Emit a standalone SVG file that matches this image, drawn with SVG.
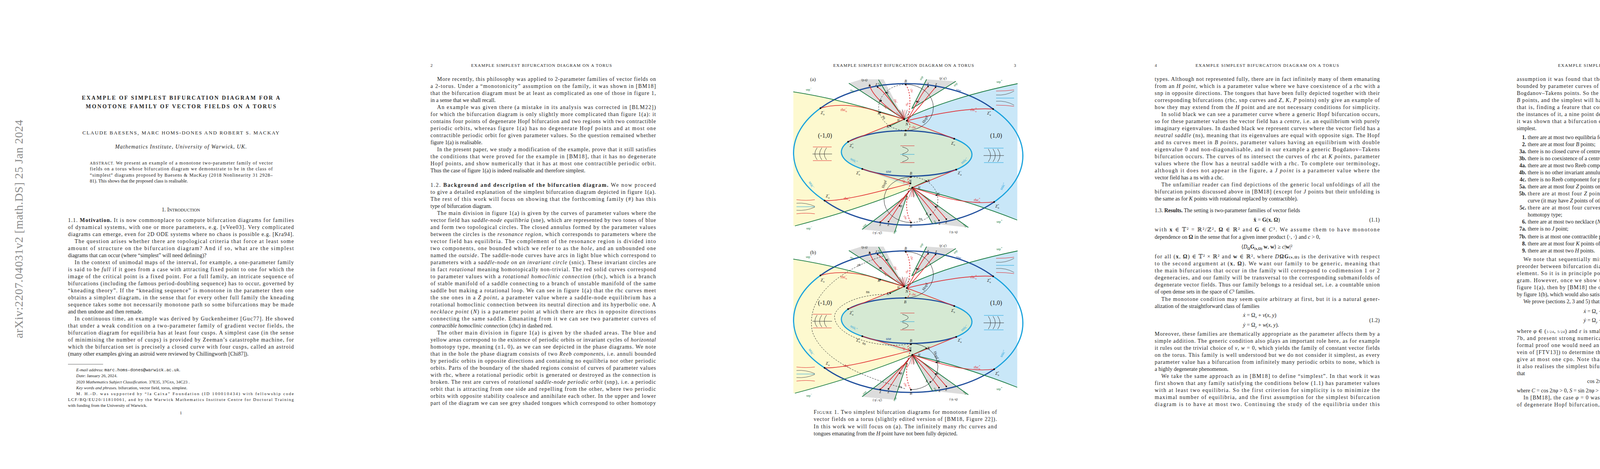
<svg xmlns="http://www.w3.org/2000/svg" xmlns:xlink="http://www.w3.org/1999/xlink" width="4635" height="1200" viewBox="0 0 4635 1200">
<style>
text{font-family:"Liberation Serif","DejaVu Serif",serif;fill:#222}
.b{font-size:14px}
.hd{font-size:11px}
.fn{font-size:11px}
.ab{font-size:12px}
.it{font-style:italic}
.bf{font-weight:bold}
.sc{font-size:11px}
.fl{font-size:10px}
.sm{font-size:7px}
.r{fill:#e0262b}.g{fill:#177a3f}.db{fill:#1f4e9c}.lb{fill:#1ba3dd}
.cr{fill:none;stroke:#e0262b;stroke-width:1.6}
.cg{fill:none;stroke:#177a3f;stroke-width:1.8}
.cd{fill:none;stroke:#1f4e9c;stroke-width:3}
.cl{fill:none;stroke:#1ba3dd;stroke-width:3}
.ck{fill:none;stroke:#222;stroke-width:1}
.dash{stroke-dasharray:4 3}
.dot{fill:#111}
</style>
<defs>
<g id="common">
<!-- regions -->
<path d="M2031,235 Q2160,255 2314.7,305 L2443,355 A169.5,59.5 0 0 1 2448,434 L2335.7,480 Q2200,535 2035,578 L2031,578 Z" fill="#fdf9cf"/>
<path d="M2605,214 Q2430,250 2314.7,305 L2171,363 A169.5,59.5 0 0 0 2207.5,432.3 L2335.7,480 Q2470,510 2604,563 Z" fill="#c9e7f8"/>
<path d="M2314.7,305 L2443,355 A169.5,59.5 0 0 1 2448,434 L2335.7,480 L2207.5,432.3 A169.5,59.5 0 0 1 2171,363 Z" fill="#d5e9d3"/>
<!-- tongues -->
<path d="M2173,213 L2205,203 L2262,203 L2314.7,305 Z" fill="#dcdcdc"/>
<path d="M2372,203 L2447,208 L2334,278 Z" fill="#dcdcdc"/>
<path d="M2207,587 L2290,595 L2322,500 Z" fill="#dcdcdc"/>
<path d="M2387,572 L2479,582 L2335.7,480 Z" fill="#dcdcdc"/>
<!-- outer ellipse -->
<path class="cd" d="M2100.4,276.7 A287,176.5 0 0 1 2542.4,279"/>
<path class="cl" d="M2542.4,279 A287,176.5 0 0 1 2545,516.7"/>
<path class="cd" d="M2545,516.7 A287,176.5 0 0 1 2111,513.3"/>
<path class="cl" d="M2111,513.3 A287,176.5 0 0 1 2100.4,276.7"/>
<!-- inner ellipse -->
<path class="cd" d="M2171.2,362.7 A169.5,59.5 0 0 1 2442.9,355"/>
<path class="cl" d="M2442.9,355 A169.5,59.5 0 0 1 2447.9,434"/>
<path class="cd" d="M2447.9,434 A169.5,59.5 0 0 1 2207.5,432.3"/>
<path class="cl" d="M2207.5,432.3 A169.5,59.5 0 0 1 2171.2,362.7"/>
<!-- snp curves -->
<path class="cg" d="M2031,235 Q2160,255 2314.7,305 Q2430,250 2605,214"/>
<path class="cg" d="M2035,578 Q2200,535 2335.7,480 Q2470,510 2604,563"/>
<path class="cg" d="M2314.7,305 L2278.7,322.3"/>
<path class="cg" d="M2335.7,480 L2371.3,463.3"/>
<path class="cg" d="M2173,213 L2314.7,305 M2249,204 L2268.8,237.3 L2314.7,305 M2372,203 L2334,278 M2447,208 L2334,278 M2207,587 L2322,500 M2290,595 L2322,500 M2387,572 L2335.7,480 M2479,582 L2335.7,480" stroke-width="1.2"/>
<!-- rhc curves -->
<path class="cr" d="M2100.4,276.7 C2150,262 2210,272 2253.4,287.7 L2314.7,305"/>
<path class="cr" d="M2321.6,309 C2400,290 2480,275 2542.4,279"/>
<path class="cr" d="M2171.2,362.7 L2314.7,305 M2321.6,309 L2442.9,355"/>
<path class="cr" d="M2330.7,469.3 C2250,490 2160,515 2111,513.3"/>
<path class="cr" d="M2335.7,480 L2397,499.3 C2450,515 2500,522 2545,516.7"/>
<path class="cr" d="M2207.5,432.3 L2330.7,469.3 M2335.7,480 L2447.9,434"/>
<path class="cr" d="M2226.7,219 C2232,240 2260,270 2314.7,305 M2246.6,222.7 C2262,232 2290,270 2314.7,305 M2375.9,221.3 C2360,235 2345,270 2321.6,309 M2395,223.3 C2380,240 2350,280 2321.6,309 M2253.4,568.3 C2270,555 2300,520 2335.7,480 M2274.5,567.3 C2290,545 2310,510 2335.7,480 M2403.9,564 C2390,545 2370,520 2335.7,480 M2422.6,560.7 C2405,540 2380,510 2335.7,480" stroke-width="1"/>
<path class="cr dash" d="M2318.5,216 C2335,240 2330,280 2321.6,309 C2335,320 2330,330 2318.5,334 M2332,452.7 C2318,460 2325,465 2330.7,469.3 C2320,500 2315,540 2332,569.3" stroke-width="1"/>
<path d="M2314.7,305 l-20,-18 M2314.7,305 l-12,-24 M2314.7,305 l-5,-25 M2314.7,305 l8,-24 M2314.7,305 l16,-20 M2335.7,480 l-18,20 M2335.7,480 l-8,24 M2335.7,480 l4,25 M2335.7,480 l14,22" stroke="#222" stroke-width="0.8"/>
<path d="M2314.7,305 l-3,-22 M2314.7,305 l2,-24 M2314.7,305 l-8,-20 M2335.7,480 l-3,24 M2335.7,480 l2,24 M2335.7,480 l6,22" stroke="#e0262b" stroke-width="0.8"/>
<!-- points -->
<g class="dot">
<circle cx="2318.5" cy="216" r="2.3"/><circle cx="2318.5" cy="334" r="2.3"/><circle cx="2332" cy="452.7" r="2.3"/><circle cx="2332" cy="569.3" r="2.3"/>
<circle cx="2314.7" cy="305" r="2.3"/><circle cx="2321.6" cy="309" r="2.3"/><circle cx="2330.7" cy="469.3" r="2.3"/><circle cx="2335.7" cy="480" r="2.3"/>
<circle cx="2100.4" cy="276.7" r="2.3"/><circle cx="2542.4" cy="279" r="2.3"/><circle cx="2111" cy="513.3" r="2.3"/><circle cx="2545" cy="516.7" r="2.3"/>
<circle cx="2171.2" cy="362.7" r="2.3"/><circle cx="2442.9" cy="355" r="2.3"/><circle cx="2207.5" cy="432.3" r="2.3"/><circle cx="2447.9" cy="434" r="2.3"/>
<circle cx="2268.8" cy="237.3" r="2"/><circle cx="2255.4" cy="257.7" r="2"/><circle cx="2253.4" cy="287.7" r="2"/><circle cx="2278.7" cy="322.3" r="2"/><circle cx="2347.2" cy="260" r="2"/>
<circle cx="2226.7" cy="219" r="2"/><circle cx="2246.6" cy="222.7" r="2"/><circle cx="2375.9" cy="221.3" r="2"/><circle cx="2395" cy="223.3" r="2"/>
<circle cx="2371.3" cy="463.3" r="2"/><circle cx="2397" cy="499.3" r="2"/><circle cx="2395" cy="529" r="2"/><circle cx="2381.7" cy="549.3" r="2"/><circle cx="2303.2" cy="526.7" r="2"/>
<circle cx="2253.4" cy="568.3" r="2"/><circle cx="2274.5" cy="567.3" r="2"/><circle cx="2403.9" cy="564" r="2"/><circle cx="2422.6" cy="560.7" r="2"/>
</g>
<!-- icons -->
<g stroke-width="1" fill="none">
<path d="M2081,376 H2129 M2081,411 H2129" stroke="#e0262b"/>
<path d="M2080,394 H2130 M2092,378 q-12,16 0,31 M2104,378 q-12,16 0,31 M2116,378 q-12,16 0,31" stroke="#333"/>
<path d="M2519,379 H2569 M2519,416 H2569" stroke="#1ba3dd"/>
<path d="M2518,398 H2570 M2530,381 q12,17 0,33 M2542,381 q12,17 0,33 M2554,381 q12,17 0,33" stroke="#333"/>
<path d="M2305,373 H2341 M2305,416 H2341" stroke="#e0262b"/>
<path d="M2305,395 H2341" stroke="#1ba3dd"/>
<path d="M2310,376 q30,8 0,18 M2310,397 q30,8 0,17" stroke="#333"/>
<path d="M2550,233 q25,0 46,-3 M2550,269 q25,0 46,3" stroke="#e0262b"/>
<path d="M2550,251 H2596" stroke="#1ba3dd"/>
<path d="M2550,243 q25,2 46,-10 M2550,259 q25,-2 46,10" stroke="#555"/>
<path d="M2039,511 q25,3 47,0 M2039,547 q25,-3 47,0" stroke="#e0262b"/>
<path d="M2039,529 H2086" stroke="#1ba3dd"/>
<path d="M2039,520 q25,-2 47,8 M2039,538 q25,2 47,-8" stroke="#555"/>
</g>
<!-- labels -->
<g class="fl">
<text x="2112" y="352" font-size="16" text-anchor="middle">(-1,0)</text>
<text x="2550" y="352" font-size="16" text-anchor="middle">(1,0)</text>
<text x="2213" y="207" font-size="8" text-anchor="middle">(p,q)</text>
<text x="2414" y="203" font-size="8" text-anchor="middle">(p',q')</text>
<text x="2246" y="598" font-size="8" text-anchor="middle">(-p',-q')</text>
<text x="2441" y="596" font-size="8" text-anchor="middle">(-p,-q)</text>
<text x="2318.5" y="211" text-anchor="middle" class="it">B</text>
<text x="2317.4" y="348" text-anchor="middle" class="it">B</text>
<text x="2332" y="447" text-anchor="middle" class="it">B</text>
<text x="2332" y="582" text-anchor="middle" class="it">B</text>
<text x="2297" y="310" class="it" font-size="8">H</text>
<text x="2318" y="321" class="it">N</text>
<text x="2327" y="467" class="it">N</text>
<text x="2350" y="483" class="it" font-size="8">H</text>
<text x="2247" y="293" class="it">K</text><text x="2270" y="327" class="it">K</text><text x="2250" y="261" class="it" font-size="8">K</text><text x="2270" y="240" class="it" font-size="8">K</text>
<text x="2374" y="466" class="it">K</text><text x="2399" y="500" class="it">K</text><text x="2397" y="531" class="it" font-size="8">K</text><text x="2370" y="550" class="it" font-size="8">K</text>
<text x="2349" y="264" class="it" font-size="8">P</text><text x="2305" y="531" class="it" font-size="8">P</text>
<text x="2223" y="221" class="it" font-size="8">Z</text><text x="2241" y="219" class="it" font-size="8">Z</text><text x="2373" y="218" class="it" font-size="8">Z</text><text x="2394" y="219" class="it" font-size="8">Z</text>
<text x="2251" y="578" class="it" font-size="8">Z</text><text x="2272" y="578" class="it" font-size="8">Z</text><text x="2403" y="575" class="it" font-size="8">Z</text><text x="2420" y="572" class="it" font-size="8">Z</text>
<text x="2101" y="292" class="it">Z<tspan class="sm" dy="-5">−</tspan><tspan class="sm" dx="-4" dy="8">b</tspan></text>
<text x="2527" y="293" class="it">Z<tspan class="sm" dy="-5">+</tspan><tspan class="sm" dx="-4" dy="8">a</tspan></text>
<text x="2175" y="376" class="it">Z<tspan class="sm" dy="-5">+</tspan><tspan class="sm" dx="-4" dy="8">a</tspan></text>
<text x="2435" y="370" class="it">Z<tspan class="sm" dy="-5">−</tspan><tspan class="sm" dx="-4" dy="8">b</tspan></text>
<text x="2192" y="446" class="it">Z<tspan class="sm" dy="-5">+</tspan><tspan class="sm" dx="-4" dy="8">b</tspan></text>
<text x="2452" y="446" class="it">Z<tspan class="sm" dy="-5">−</tspan><tspan class="sm" dx="-4" dy="8">a</tspan></text>
<text x="2114" y="505" class="it">Z<tspan class="sm" dy="-5">−</tspan><tspan class="sm" dx="-4" dy="8">a</tspan></text>
<text x="2548" y="531" class="it">Z<tspan class="sm" dy="-5">+</tspan><tspan class="sm" dx="-4" dy="8">b</tspan></text>
<text x="2152" y="284" class="r">rhc<tspan class="sm" dy="-5">−</tspan><tspan class="sm" dx="-4" dy="8">b</tspan></text>
<text x="2484" y="284" class="r">rhc<tspan class="sm" dy="-5">+</tspan><tspan class="sm" dx="-4" dy="8">a</tspan></text>
<text x="2160" y="511" class="r">rhc<tspan class="sm" dy="-5">−</tspan><tspan class="sm" dx="-4" dy="8">a</tspan></text>
<text x="2493" y="515" class="r">rhc<tspan class="sm" dy="-5">+</tspan><tspan class="sm" dx="-4" dy="8">b</tspan></text>
<text x="2262" y="272" class="r" font-size="8" transform="rotate(50 2262 272)">rhc</text>
<text x="2288" y="255" class="r" font-size="8" transform="rotate(60 2288 255)">rhc'</text>
<text x="2322" y="272" class="r" font-size="8" transform="rotate(-60 2322 272)">rhc</text>
<text x="2308" y="515" class="r" font-size="8" transform="rotate(-60 2308 515)">rhc</text>
<text x="2323" y="513" class="r" font-size="8" transform="rotate(-60 2323 513)">rhc</text>
<text x="2330" y="228" class="r" font-size="8" transform="rotate(70 2330 228)">chc</text>
<text x="2334" y="328" class="r" font-size="8">chc</text>
<text x="2310" y="460" class="r" font-size="8" transform="rotate(70 2310 460)">chc</text>
<text x="2313" y="553" class="r" font-size="8" transform="rotate(60 2313 553)">chc</text>
<text x="2447" y="232" class="db" transform="rotate(18 2447 232)">sne</text>
<text x="2268" y="442" class="db">sne</text>
<text x="2063" y="232" class="g" font-size="8">snp<tspan class="sm" dy="-4">−</tspan></text>
<text x="2551" y="212" class="g" font-size="8">snp<tspan class="sm" dy="-4">+</tspan></text>
<text x="2064" y="587" class="g" font-size="8">snp<tspan class="sm" dy="-4">−</tspan></text>
<text x="2551" y="570" class="g" font-size="8">snp<tspan class="sm" dy="-4">+</tspan></text>
<text x="2176" y="232" class="g" font-size="8" transform="rotate(25 2176 232)">snp</text>
<text x="2247" y="213" class="g" font-size="8" transform="rotate(55 2247 213)">snp</text>
<text x="2358" y="206" class="g" font-size="8" transform="rotate(-60 2358 206)">snp</text>
<text x="2444" y="222" class="g" font-size="8" transform="rotate(-45 2444 222)">snp</text>
<text x="2211" y="583" class="g" font-size="8" transform="rotate(-45 2211 583)">snp</text>
<text x="2290" y="599" class="g" font-size="8" transform="rotate(-60 2290 599)">snp</text>
<text x="2390" y="565" class="g" font-size="8" transform="rotate(60 2390 565)">snp</text>
<text x="2465" y="575" class="g" font-size="8" transform="rotate(40 2465 575)">snp</text>
<text x="2176" y="408" class="lb" transform="rotate(30 2176 408)">snic<tspan class="sm" dy="-3">+</tspan></text>
<text x="2463" y="420" class="lb" transform="rotate(-40 2463 420)">snic<tspan class="sm" dy="-3">−</tspan></text>
<text x="2070" y="466" class="lb" transform="rotate(60 2070 466)">snic<tspan class="sm" dy="-3">−</tspan></text>
<text x="2565" y="487" class="lb" transform="rotate(-62 2565 487)">snic<tspan class="sm" dy="-3">+</tspan></text>
</g>
</g>
</defs>

<!-- PAGE 1 -->
<g id="page1">
<text x="58" y="586" font-size="30" fill="#888" text-anchor="middle" textLength="559" lengthAdjust="spacing" transform="rotate(-90 58 586)" style="fill:#8a8a8a">arXiv:2207.04031v2  [math.DS]  25 Jan 2024</text>
<text x="463" y="255" text-anchor="middle" font-size="14" class="bf" textLength="507" lengthAdjust="spacing">EXAMPLE OF SIMPLEST BIFURCATION DIAGRAM FOR A</text>
<text x="463" y="277" text-anchor="middle" font-size="14" class="bf" textLength="487" lengthAdjust="spacing">MONOTONE FAMILY OF VECTOR FIELDS ON A TORUS</text>
<text x="463" y="344" text-anchor="middle" font-size="13" textLength="504" lengthAdjust="spacing">CLAUDE BAESENS, MARC HOMS-DONES AND ROBERT S. MACKAY</text>
<text x="463" y="380" text-anchor="middle" class="b it" textLength="337" lengthAdjust="spacing">Mathematics Institute, University of Warwick, UK.</text>
<text x="230" y="421" class="ab" textLength="468" lengthAdjust="spacing"><tspan font-size="10">ABSTRACT.</tspan> We present an example of a monotone two-parameter family of vector</text>
<text x="230" y="436" class="ab" textLength="468" lengthAdjust="spacing">fields on a torus whose bifurcation diagram we demonstrate to be in the class of</text>
<text x="230" y="452" class="ab" textLength="468" lengthAdjust="spacing">“simplest” diagrams proposed by Baesens &amp; MacKay (2018 Nonlinearity 31 2928–</text>
<text x="230" y="467" class="ab">81). This shows that the proposed class is realisable.</text>
<text x="463" y="541" text-anchor="middle" class="b">1. I<tspan font-size="11">NTRODUCTION</tspan></text>
<g class="b">
<text x="174" y="568" textLength="578" lengthAdjust="spacing">1.1. <tspan class="bf">Motivation.</tspan> It is now commonplace to compute bifurcation diagrams for families</text>
<text x="174" y="586" textLength="578" lengthAdjust="spacing">of dynamical systems, with one or more parameters, e.g. [vVee03]. Very complicated</text>
<text x="174" y="604" textLength="578" lengthAdjust="spacing">diagrams can emerge, even for 2D ODE systems where no chaos is possible e.g. [Kra94].</text>
<text x="191" y="622" textLength="561" lengthAdjust="spacing">The question arises whether there are topological criteria that force at least some</text>
<text x="174" y="640" textLength="578" lengthAdjust="spacing">amount of structure on the bifurcation diagram? And if so, what are the simplest</text>
<text x="174" y="658">diagrams that can occur (where “simplest” will need defining)?</text>
<text x="191" y="676" textLength="561" lengthAdjust="spacing">In the context of unimodal maps of the interval, for example, a one-parameter family</text>
<text x="174" y="694" textLength="578" lengthAdjust="spacing">is said to be <tspan class="it">full</tspan> if it goes from a case with attracting fixed point to one for which the</text>
<text x="174" y="712" textLength="578" lengthAdjust="spacing">image of the critical point is a fixed point. For a full family, an intricate sequence of</text>
<text x="174" y="730" textLength="578" lengthAdjust="spacing">bifurcations (including the famous period-doubling sequence) has to occur, governed by</text>
<text x="174" y="748" textLength="578" lengthAdjust="spacing">“kneading theory”. If the “kneading sequence” is monotone in the parameter then one</text>
<text x="174" y="766" textLength="578" lengthAdjust="spacing">obtains a simplest diagram, in the sense that for every other full family the kneading</text>
<text x="174" y="784" textLength="578" lengthAdjust="spacing">sequence takes some not necessarily monotone path so some bifurcations may be made</text>
<text x="174" y="802">and then undone and then remade.</text>
<text x="191" y="820" textLength="561" lengthAdjust="spacing">In continuous time, an example was derived by Guckenheimer [Guc77]. He showed</text>
<text x="174" y="838" textLength="578" lengthAdjust="spacing">that under a weak condition on a two-parameter family of gradient vector fields, the</text>
<text x="174" y="856" textLength="578" lengthAdjust="spacing">bifurcation diagram for equilibria has at least four cusps. A simplest case (in the sense</text>
<text x="174" y="874" textLength="578" lengthAdjust="spacing">of minimising the number of cusps) is provided by Zeeman’s catastrophe machine, for</text>
<text x="174" y="892" textLength="578" lengthAdjust="spacing">which the bifurcation set is precisely a closed curve with four cusps, called an astroid</text>
<text x="174" y="910">(many other examples giving an astroid were reviewed by Chillingworth [Chi87]).</text>
</g>
<line x1="174" y1="932" x2="264" y2="932" stroke="#333" stroke-width="0.8"/>
<g class="fn">
<text x="195" y="950"><tspan class="it">E-mail address</tspan>: <tspan font-family="Liberation Mono,monospace">marc.homs-dones@warwick.ac.uk</tspan>.</text>
<text x="195" y="965"><tspan class="it">Date</tspan>: January 26, 2024.</text>
<text x="195" y="981">2020 <tspan class="it">Mathematics Subject Classification.</tspan> 37E35, 37Gxx, 34C23 .</text>
<text x="195" y="996"><tspan class="it">Key words and phrases.</tspan> bifurcation, vector field, torus, simplest.</text>
<text x="195" y="1011" textLength="557" lengthAdjust="spacing">M. H.-D. was supported by “la Caixa” Foundation (ID 100010434) with fellowship code</text>
<text x="174" y="1026" textLength="578" lengthAdjust="spacing">LCF/BQ/EU20/11810061, and by the Warwick Mathematics Institute Centre for Doctoral Training</text>
<text x="174" y="1041">with funding from the University of Warwick.</text>
</g>
<text x="463" y="1060" text-anchor="middle" class="fn">1</text>
</g>

<!-- PAGE 2 -->
<g id="page2" class="b">
<text x="1102" y="171" class="hd">2</text>
<text x="1386" y="171" class="hd" text-anchor="middle" textLength="360" lengthAdjust="spacing">EXAMPLE SIMPLEST BIFURCATION DIAGRAM ON A TORUS</text>
<text x="1119" y="207" textLength="560" lengthAdjust="spacing">More recently, this philosophy was applied to 2-parameter families of vector fields on</text>
<text x="1102" y="225" textLength="577" lengthAdjust="spacing">a 2-torus. Under a “monotonicity” assumption on the family, it was shown in [BM18]</text>
<text x="1102" y="243" textLength="577" lengthAdjust="spacing">that the bifurcation diagram must be at least as complicated as one of those in figure 1,</text>
<text x="1102" y="261">in a sense that we shall recall.</text>
<text x="1119" y="279" textLength="560" lengthAdjust="spacing">An example was given there (a mistake in its analysis was corrected in [BLM22])</text>
<text x="1102" y="297" textLength="577" lengthAdjust="spacing">for which the bifurcation diagram is only slightly more complicated than figure 1(a): it</text>
<text x="1102" y="315" textLength="577" lengthAdjust="spacing">contains four points of degenerate Hopf bifurcation and two regions with two contractible</text>
<text x="1102" y="333" textLength="577" lengthAdjust="spacing">periodic orbits, whereas figure 1(a) has no degenerate Hopf points and at most one</text>
<text x="1102" y="351" textLength="577" lengthAdjust="spacing">contractible periodic orbit for given parameter values. So the question remained whether</text>
<text x="1102" y="369">figure 1(a) is realisable.</text>
<text x="1119" y="387" textLength="560" lengthAdjust="spacing">In the present paper, we study a modification of the example, prove that it still satisfies</text>
<text x="1102" y="405" textLength="577" lengthAdjust="spacing">the conditions that were proved for the example in [BM18], that it has no degenerate</text>
<text x="1102" y="423" textLength="577" lengthAdjust="spacing">Hopf points, and show numerically that it has at most one contractible periodic orbit.</text>
<text x="1102" y="441">Thus the case of figure 1(a) is indeed realisable and therefore simplest.</text>
<text x="1102" y="478" textLength="577" lengthAdjust="spacing">1.2. <tspan class="bf">Background and description of the bifurcation diagram.</tspan> We now proceed</text>
<text x="1102" y="496" textLength="577" lengthAdjust="spacing">to give a detailed explanation of the simplest bifurcation diagram depicted in figure 1(a).</text>
<text x="1102" y="514" textLength="577" lengthAdjust="spacing">The rest of this work will focus on showing that the forthcoming family (#) has this</text>
<text x="1102" y="532">type of bifurcation diagram.</text>
<text x="1119" y="550" textLength="560" lengthAdjust="spacing">The main division in figure 1(a) is given by the curves of parameter values where the</text>
<text x="1102" y="568" textLength="577" lengthAdjust="spacing">vector field has <tspan class="it">saddle-node equilibria</tspan> (sne), which are represented by two tones of blue</text>
<text x="1102" y="586" textLength="577" lengthAdjust="spacing">and form two topological circles. The closed annulus formed by the parameter values</text>
<text x="1102" y="604" textLength="577" lengthAdjust="spacing">between the circles is the <tspan class="it">resonance region</tspan>, which corresponds to parameters where the</text>
<text x="1102" y="622" textLength="577" lengthAdjust="spacing">vector field has equilibria. The complement of the resonance region is divided into</text>
<text x="1102" y="640" textLength="577" lengthAdjust="spacing">two components, one bounded which we refer to as the <tspan class="it">hole</tspan>, and an unbounded one</text>
<text x="1102" y="658" textLength="577" lengthAdjust="spacing">named the <tspan class="it">outside</tspan>. The saddle-node curves have arcs in light blue which correspond to</text>
<text x="1102" y="676" textLength="577" lengthAdjust="spacing">parameters with a <tspan class="it">saddle-node on an invariant circle</tspan> (snic). These invariant circles are</text>
<text x="1102" y="694" textLength="577" lengthAdjust="spacing">in fact <tspan class="it">rotational</tspan> meaning homotopically non-trivial. The red solid curves correspond</text>
<text x="1102" y="712" textLength="577" lengthAdjust="spacing">to parameter values with a <tspan class="it">rotational homoclinic connection</tspan> (rhc), which is a branch</text>
<text x="1102" y="730" textLength="577" lengthAdjust="spacing">of stable manifold of a saddle connecting to a branch of unstable manifold of the same</text>
<text x="1102" y="748" textLength="577" lengthAdjust="spacing">saddle but making a rotational loop. We can see in figure 1(a) that the rhc curves meet</text>
<text x="1102" y="766" textLength="577" lengthAdjust="spacing">the sne ones in a <tspan class="it">Z point</tspan>, a parameter value where a saddle-node equilibrium has a</text>
<text x="1102" y="784" textLength="577" lengthAdjust="spacing">rotational homoclinic connection between its neutral direction and its hyperbolic one. A</text>
<text x="1102" y="802" textLength="577" lengthAdjust="spacing"><tspan class="it">necklace point</tspan> (<tspan class="it">N</tspan>) is a parameter point at which there are rhcs in opposite directions</text>
<text x="1102" y="820" textLength="577" lengthAdjust="spacing">connecting the same saddle. Emanating from it we can see two parameter curves of</text>
<text x="1102" y="838"><tspan class="it">contractible homoclinic connection</tspan> (chc) in dashed red.</text>
<text x="1119" y="856" textLength="560" lengthAdjust="spacing">The other main division in figure 1(a) is given by the shaded areas. The blue and</text>
<text x="1102" y="874" textLength="577" lengthAdjust="spacing">yellow areas correspond to the existence of periodic orbits or invariant cycles of <tspan class="it">horizontal</tspan></text>
<text x="1102" y="892" textLength="577" lengthAdjust="spacing">homotopy type, meaning (±1, 0), as we can see depicted in the phase diagrams. We note</text>
<text x="1102" y="910" textLength="577" lengthAdjust="spacing">that in the hole the phase diagram consists of two <tspan class="it">Reeb components</tspan>, i.e. annuli bounded</text>
<text x="1102" y="928" textLength="577" lengthAdjust="spacing">by periodic orbits in opposite directions and containing no equilibria nor other periodic</text>
<text x="1102" y="946" textLength="577" lengthAdjust="spacing">orbits. Parts of the boundary of the shaded regions consist of curves of parameter values</text>
<text x="1102" y="964" textLength="577" lengthAdjust="spacing">with rhc, where a rotational periodic orbit is generated or destroyed as the connection is</text>
<text x="1102" y="982" textLength="577" lengthAdjust="spacing">broken. The rest are curves of <tspan class="it">rotational saddle-node periodic orbit</tspan> (snp), i.e. a periodic</text>
<text x="1102" y="1000" textLength="577" lengthAdjust="spacing">orbit that is attracting from one side and repelling from the other, where two periodic</text>
<text x="1102" y="1018" textLength="577" lengthAdjust="spacing">orbits with opposite stability coalesce and annihilate each other. In the upper and lower</text>
<text x="1102" y="1036" textLength="577" lengthAdjust="spacing">part of the diagram we can see grey shaded tongues which correspond to other homotopy</text>
</g>

<!-- PAGE 3 : figure -->
<g id="page3">
<text x="2313" y="171" class="hd" text-anchor="middle" textLength="360" lengthAdjust="spacing">EXAMPLE SIMPLEST BIFURCATION DIAGRAM ON A TORUS</text>
<text x="2601" y="171" class="hd" text-anchor="end">3</text>
<g id="panel-a">
<use xlink:href="#common" href="#common"/>
<path class="ck" d="M2319.5,216 A70,59 0 0 1 2319.5,334"/>
<path class="ck dash" d="M2319.5,216 A70,59 0 0 0 2319.5,334"/>
<path class="ck" d="M2332,452.7 A69,58.3 0 0 0 2332,569.3"/>
<path class="ck dash" d="M2332,452.7 A69,58.3 0 0 1 2332,569.3"/>
<text x="2366" y="316" class="fl" transform="rotate(-60 2366 316)">Hopf</text>
<text x="2263" y="482" class="fl" transform="rotate(-70 2263 482)">Hopf</text>
<text x="2258" y="298" class="fl" transform="rotate(60 2258 298)">ns</text>
<text x="2352" y="563" class="fl">ns</text>
<text x="2074" y="207" font-family="Liberation Sans,Arial,sans-serif" font-size="13">(a)</text>
</g>
<g id="panel-b">
<use xlink:href="#common" href="#common" transform="translate(0,428)"/>
<path class="ck" d="M2319.5,644 A70,59 0 0 1 2319.5,762"/>
<path class="ck" d="M2332,879 A69,59 0 0 1 2332,997"/>
<path class="ck dash" d="M2261,655 C2150,690 2060,760 2080,850 C2110,930 2230,970 2318.5,995"/>
<path class="ck dash" d="M2265,753 C2180,755 2130,790 2137,815 C2145,865 2260,895 2332,879"/>
<text x="2366" y="744" class="fl" transform="rotate(-60 2366 744)">Hopf</text>
<text x="2390" y="900" class="fl" transform="rotate(70 2390 900)">Hopf</text>
<text x="2196" y="682" class="fl" transform="rotate(-25 2196 682)">ns</text>
<text x="2217" y="750" class="fl">ns</text>
<text x="2207" y="880" class="fl" transform="rotate(20 2207 880)">ns</text>
<text x="2300" y="991" class="fl" transform="rotate(15 2300 991)">ns</text>
<text x="2074" y="650" font-family="Liberation Sans,Arial,sans-serif" font-size="13">(b)</text>
</g>
<g class="b">
<text x="2083" y="1059" textLength="469" lengthAdjust="spacing">F<tspan font-size="11">IGURE</tspan> 1. Two simplest bifurcation diagrams for monotone families of</text>
<text x="2083" y="1077" textLength="469" lengthAdjust="spacing">vector fields on a torus (slightly edited version of [BM18, Figure 22]).</text>
<text x="2083" y="1096" textLength="469" lengthAdjust="spacing">In this work we will focus on (a). The infinitely many rhc curves and</text>
<text x="2083" y="1114">tongues emanating from the <tspan class="it">H</tspan> point have not been fully depicted.</text>
</g>
</g>

<!-- PAGE 4 -->
<g id="page4" class="b">
<text x="2956" y="171" class="hd">4</text>
<text x="3244" y="171" class="hd" text-anchor="middle" textLength="367" lengthAdjust="spacing">EXAMPLE SIMPLEST BIFURCATION DIAGRAM ON A TORUS</text>
<text x="2956" y="207" textLength="576" lengthAdjust="spacing">types. Although not represented fully, there are in fact infinitely many of them emanating</text>
<text x="2956" y="225" textLength="576" lengthAdjust="spacing">from an <tspan class="it">H point</tspan>, which is a parameter value where we have coexistence of a rhc with a</text>
<text x="2956" y="243" textLength="576" lengthAdjust="spacing">snp in opposite directions. The tongues that have been fully depicted together with their</text>
<text x="2956" y="261" textLength="576" lengthAdjust="spacing">corresponding bifurcations (rhc, snp curves and <tspan class="it">Z</tspan>, <tspan class="it">K</tspan>, <tspan class="it">P</tspan> points) only give an example of</text>
<text x="2956" y="279" textLength="576" lengthAdjust="spacing">how they may extend from the <tspan class="it">H</tspan> point and are not necessary conditions for simplicity.</text>
<text x="2973" y="297" textLength="559" lengthAdjust="spacing">In solid black we can see a parameter curve where a generic Hopf bifurcation occurs,</text>
<text x="2956" y="315" textLength="576" lengthAdjust="spacing">so for these parameter values the vector field has a <tspan class="it">centre</tspan>, i.e. an equilibrium with purely</text>
<text x="2956" y="333" textLength="576" lengthAdjust="spacing">imaginary eigenvalues. In dashed black we represent curves where the vector field has a</text>
<text x="2956" y="351" textLength="576" lengthAdjust="spacing"><tspan class="it">neutral saddle</tspan> (ns), meaning that its eigenvalues are equal with opposite sign. The Hopf</text>
<text x="2956" y="369" textLength="576" lengthAdjust="spacing">and ns curves meet in <tspan class="it">B points</tspan>, parameter values having an equilibrium with double</text>
<text x="2956" y="387" textLength="576" lengthAdjust="spacing">eigenvalue 0 and non-diagonalisable, and in our example a generic Bogdanov–Takens</text>
<text x="2956" y="405" textLength="576" lengthAdjust="spacing">bifurcation occurs. The curves of ns intersect the curves of rhc at <tspan class="it">K points</tspan>, parameter</text>
<text x="2956" y="423" textLength="576" lengthAdjust="spacing">values where the flow has a neutral saddle with a rhc. To complete our terminology,</text>
<text x="2956" y="441" textLength="576" lengthAdjust="spacing">although it does not appear in the figure, a <tspan class="it">J point</tspan> is a parameter value where the</text>
<text x="2956" y="459">vector field has a ns with a chc.</text>
<text x="2973" y="477" textLength="559" lengthAdjust="spacing">The unfamiliar reader can find depictions of the generic local unfoldings of all the</text>
<text x="2956" y="495" textLength="576" lengthAdjust="spacing">bifurcation points discussed above in [BM18] (except for <tspan class="it">J</tspan> points but their unfolding is</text>
<text x="2956" y="513">the same as for <tspan class="it">K</tspan> points with rotational replaced by contractible).</text>
<text x="2956" y="543">1.3. <tspan class="bf">Results.</tspan> The setting is two-parameter families of vector fields</text>
<text x="3243" y="567" text-anchor="middle"><tspan class="bf">ẋ</tspan> = <tspan class="bf">G</tspan>(<tspan class="bf">x</tspan>, <tspan class="bf">Ω</tspan>)</text>
<text x="3532" y="567" text-anchor="end">(1.1)</text>
<text x="2956" y="592" textLength="576" lengthAdjust="spacing">with <tspan class="bf">x</tspan> ∈ 𝕋² = ℝ²/ℤ², <tspan class="bf">Ω</tspan> ∈ ℝ² and <tspan class="bf">G</tspan> ∈ <tspan class="it">C</tspan>³. We assume them to have monotone</text>
<text x="2956" y="611">dependence on <tspan class="bf">Ω</tspan> in the sense that for a given inner product ⟨·, ·⟩ and <tspan class="it">c</tspan> &gt; 0,</text>
<text x="3243" y="636" text-anchor="middle">⟨<tspan class="it">D</tspan><tspan font-size="9" dy="3" class="bf">Ω</tspan><tspan class="bf" dy="-3">G</tspan><tspan font-size="9" dy="3" class="bf">(x,Ω)</tspan><tspan dy="-3" class="bf"> w</tspan>, <tspan class="bf">w</tspan>⟩ ≥ <tspan class="it">c</tspan>|<tspan class="bf">w</tspan>|²</text>
<text x="2956" y="661" textLength="576" lengthAdjust="spacing">for all (<tspan class="bf">x</tspan>, <tspan class="bf">Ω</tspan>) ∈ 𝕋² × ℝ² and <tspan class="bf">w</tspan> ∈ ℝ², where <tspan class="it">D</tspan><tspan class="bf">ΩG</tspan><tspan font-size="9" class="bf">(x,Ω)</tspan> is the derivative with respect</text>
<text x="2956" y="679" textLength="576" lengthAdjust="spacing">to the second argument at (<tspan class="bf">x</tspan>, <tspan class="bf">Ω</tspan>). We want our family to be generic, meaning that</text>
<text x="2956" y="697" textLength="576" lengthAdjust="spacing">the main bifurcations that occur in the family will correspond to codimension 1 or 2</text>
<text x="2956" y="715" textLength="576" lengthAdjust="spacing">degeneracies, and our family will be transversal to the corresponding submanifolds of</text>
<text x="2956" y="733" textLength="576" lengthAdjust="spacing">degenerate vector fields. Thus our family belongs to a residual set, i.e. a countable union</text>
<text x="2956" y="751">of open dense sets in the space of <tspan class="it">C</tspan>³ families.</text>
<text x="2973" y="770" textLength="559" lengthAdjust="spacing">The monotone condition may seem quite arbitrary at first, but it is a natural gener-</text>
<text x="2956" y="788">alization of the straightforward class of families</text>
<text x="3182" y="811"><tspan class="it">ẋ</tspan> = Ω<tspan font-size="9" class="it" dy="3">x</tspan><tspan dy="-3"> + </tspan><tspan class="it">v</tspan>(<tspan class="it">x</tspan>, <tspan class="it">y</tspan>)</text>
<text x="3182" y="836"><tspan class="it">ẏ</tspan> = Ω<tspan font-size="9" class="it" dy="3">y</tspan><tspan dy="-3"> + </tspan><tspan class="it">w</tspan>(<tspan class="it">x</tspan>, <tspan class="it">y</tspan>).</text>
<text x="3532" y="824" text-anchor="end">(1.2)</text>
<text x="2956" y="859" textLength="576" lengthAdjust="spacing">Moreover, these families are thematically appropriate as the parameter affects them by a</text>
<text x="2956" y="877" textLength="576" lengthAdjust="spacing">simple addition. The generic condition also plays an important role here, as for example</text>
<text x="2956" y="895" textLength="576" lengthAdjust="spacing">it rules out the trivial choice of <tspan class="it">v</tspan>, <tspan class="it">w</tspan> = 0, which yields the family of constant vector fields</text>
<text x="2956" y="913" textLength="576" lengthAdjust="spacing">on the torus. This family is well understood but we do not consider it simplest, as every</text>
<text x="2956" y="931" textLength="576" lengthAdjust="spacing">parameter value has a bifurcation from infinitely many periodic orbits to none, which is</text>
<text x="2956" y="949">a highly degenerate phenomenon.</text>
<text x="2973" y="967" textLength="559" lengthAdjust="spacing">We take the same approach as in [BM18] to define “simplest”. In that work it was</text>
<text x="2956" y="985" textLength="576" lengthAdjust="spacing">first shown that any family satisfying the conditions below (1.1) has parameter values</text>
<text x="2956" y="1003" textLength="576" lengthAdjust="spacing">with at least two equilibria. So the first criterion for simplicity is to minimize the</text>
<text x="2956" y="1021" textLength="576" lengthAdjust="spacing">maximal number of equilibria, and the first assumption for the simplest bifurcation</text>
<text x="2956" y="1039" textLength="576" lengthAdjust="spacing">diagram is to have at most two. Continuing the study of the equilibria under this</text>
</g>

<!-- PAGE 5 -->
<g id="page5" class="b">
<text x="4172" y="171" class="hd" text-anchor="middle" textLength="367" lengthAdjust="spacing">EXAMPLE SIMPLEST BIFURCATION DIAGRAM ON A TORUS</text>
<text x="4459" y="171" class="hd" text-anchor="end">5</text>
<text x="3883" y="207" textLength="576" lengthAdjust="spacing">assumption it was found that the set of parameter values with equilibria is an annulus</text>
<text x="3883" y="225" textLength="576" lengthAdjust="spacing">bounded by parameter curves of saddle-node, which were shown to contain at least four</text>
<text x="3883" y="243" textLength="576" lengthAdjust="spacing">Bogdanov–Takens points. So the second simplicity criterion is to minimize the number of</text>
<text x="3883" y="261" textLength="576" lengthAdjust="spacing"><tspan class="it">B</tspan> points, and the simplest will have at most four. Sequentially continuing in this manner,</text>
<text x="3883" y="279" textLength="576" lengthAdjust="spacing">that is, finding a feature that complicates the bifurcation diagram and then minimizing</text>
<text x="3883" y="297" textLength="576" lengthAdjust="spacing">the instances of it, a nine point definition of simplicity was devised in [BM18]. Moreover,</text>
<text x="3883" y="315" textLength="576" lengthAdjust="spacing">it was shown that a bifurcation diagram satisfying the following assumptions would be</text>
<text x="3883" y="333">simplest.</text>
<g class="bf" text-anchor="end">
<text x="3907" y="356">1.</text><text x="3907" y="374">2.</text><text x="3907" y="392">3a.</text><text x="3907" y="410">3b.</text><text x="3907" y="428">4a.</text><text x="3907" y="446">4b.</text><text x="3907" y="464">4c.</text><text x="3907" y="482">5a.</text><text x="3907" y="500">5b.</text><text x="3907" y="536">5c.</text><text x="3907" y="572">6.</text><text x="3907" y="590">7a.</text><text x="3907" y="610">7b.</text><text x="3907" y="628">8.</text><text x="3907" y="646">9.</text>
</g>
<text x="3911" y="356">there are at most two equilibria for any parameter values;</text>
<text x="3911" y="374">there are at most four <tspan class="it">B</tspan> points;</text>
<text x="3911" y="392">there is no closed curve of centres nor closed curve of neutral saddles;</text>
<text x="3911" y="410">there is no coexistence of a centre and a neutral saddle;</text>
<text x="3911" y="428">there are at most two Reeb components for parameter values in the hole;</text>
<text x="3911" y="446">there is no other invariant annulus for flows in the hole;</text>
<text x="3911" y="464">there is no Reeb component for parameters outside the resonance region;</text>
<text x="3911" y="482">there are at most four <tspan class="it">Z</tspan> points on the inner saddle-node curve;</text>
<text x="3911" y="500" textLength="548" lengthAdjust="spacing">there are at most four <tspan class="it">Z</tspan> points of horizontal homotopy type on the outer saddle-node</text>
<text x="3911" y="518">curve (it may have <tspan class="it">Z</tspan> points of other homotopy types);</text>
<text x="3911" y="536" textLength="548" lengthAdjust="spacing">there are at most four curves of rotational homoclinic connection (rhc) of horizontal</text>
<text x="3911" y="554">homotopy type;</text>
<text x="3911" y="572">there are at most two necklace (<tspan class="it">N</tspan>) points;</text>
<text x="3911" y="590">there is no <tspan class="it">J</tspan> point;</text>
<text x="3911" y="610">there is at most one contractible periodic orbit (cpo) for any parameter value;</text>
<text x="3911" y="628">there are at most four <tspan class="it">K</tspan> points of horizontal homotopy type;</text>
<text x="3911" y="646">there are at most two <tspan class="it">H</tspan> points.</text>
<text x="3900" y="668" textLength="559" lengthAdjust="spacing">We note that sequentially minimizing instances of features will give rise to a total</text>
<text x="3883" y="686" textLength="576" lengthAdjust="spacing">preorder between bifurcation diagrams, and then by simplest we really mean a minimal</text>
<text x="3883" y="704" textLength="576" lengthAdjust="spacing">element. So it is in principle possible to have more than one simplest bifurcation dia-</text>
<text x="3883" y="722" textLength="576" lengthAdjust="spacing">gram. However, once we show that the assumptions above are realisable by attaining</text>
<text x="3883" y="740" textLength="576" lengthAdjust="spacing">figure 1(a), then by [BM18] the only other possible simplest bifurcation diagram is given</text>
<text x="3883" y="758">by figure 1(b), which would also satisfy them.</text>
<text x="3900" y="776">We prove (sections 2, 3 and 5) that the family of vector fields,</text>
<text x="4054" y="801"><tspan class="it">ẋ</tspan> = Ω<tspan font-size="9" class="it" dy="3">x</tspan><tspan dy="-3"> − cos 2</tspan><tspan class="it">π</tspan>(<tspan class="it">y</tspan> − <tspan class="it">φ</tspan>) − <tspan class="it">ε</tspan> cos 2<tspan class="it">πx</tspan></text>
<text x="4054" y="824"><tspan class="it">ẏ</tspan> = Ω<tspan font-size="9" class="it" dy="3">y</tspan><tspan dy="-3"> − sin 2</tspan><tspan class="it">πy</tspan> − <tspan class="it">ε</tspan> sin 2<tspan class="it">πx</tspan></text>
<text x="4459" y="815" text-anchor="end">(#)</text>
<text x="3883" y="852" textLength="576" lengthAdjust="spacing">where <tspan class="it">φ</tspan> ∈ (<tspan font-size="9">1/24</tspan>, <tspan font-size="9">5/24</tspan>) and <tspan class="it">ε</tspan> is small and positive, satisfies all the above assumptions except</text>
<text x="3883" y="870" textLength="576" lengthAdjust="spacing">7b, and present strong numerical evidence that it satisfies 7b (section 4). To obtain a</text>
<text x="3883" y="888" textLength="576" lengthAdjust="spacing">formal proof one would need an insight or rigorous computer-assisted estimates (in the</text>
<text x="3883" y="906" textLength="576" lengthAdjust="spacing">vein of [FTV13]) to determine the sign of the integrals (4.1), which would automatically</text>
<text x="3883" y="924" textLength="576" lengthAdjust="spacing">give at most one cpo. Note that the proposed family is in the class of (1.2), so that</text>
<text x="3883" y="942" textLength="576" lengthAdjust="spacing">it also realises the simplest bifurcation diagram in that class. For future reference note</text>
<text x="3883" y="960">that</text>
<text x="4170" y="980" text-anchor="middle">cos 2<tspan class="it">π</tspan>(<tspan class="it">y</tspan> − <tspan class="it">φ</tspan>) = <tspan class="it">C</tspan> cos 2<tspan class="it">πy</tspan> + <tspan class="it">S</tspan> sin 2<tspan class="it">πy</tspan>,</text>
<text x="4459" y="980" text-anchor="end">(1.3)</text>
<text x="3883" y="1004">where <tspan class="it">C</tspan> = cos 2<tspan class="it">πφ</tspan> &gt; 0, <tspan class="it">S</tspan> = sin 2<tspan class="it">πφ</tspan> &gt; 0.</text>
<text x="3900" y="1022" textLength="559" lengthAdjust="spacing">In [BM18], the case <tspan class="it">φ</tspan> = 0 was considered, but it was found that there were four points</text>
<text x="3883" y="1040" textLength="576" lengthAdjust="spacing">of degenerate Hopf bifurcation, which caused the appearance of more than one cpo in</text>
</g>
</svg>
